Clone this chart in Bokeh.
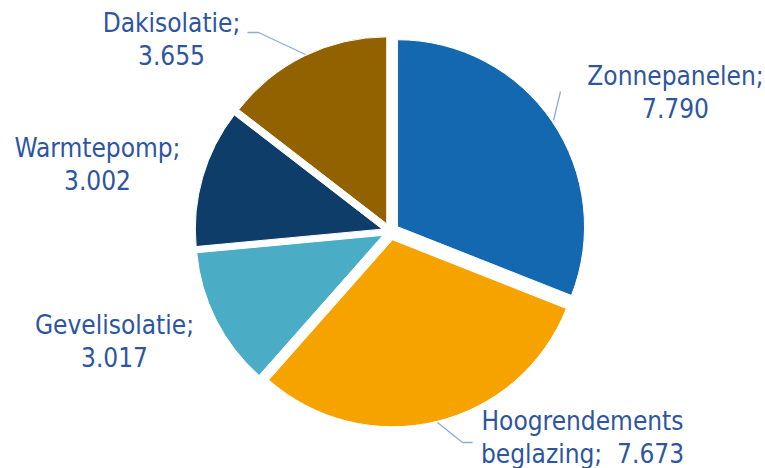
import math
from bokeh.plotting import figure
from bokeh.models import Range1d, ColumnDataSource
from bokeh.core.properties import value
from bokeh.embed import file_html
from bokeh.resources import INLINE

# data
categories = ["Zonnepanelen", "Hoogrendements beglazing", "Gevelisolatie", "Warmtepomp", "Dakisolatie"]
values = [7790, 7673, 3017, 3002, 3655]
value_labels = ["7.790", "7.673", "3.017", "3.002", "3.655"]
label_texts = ["Zonnepanelen;\n7.790", "Hoogrendements\nbeglazing;\u00a0\u00a07.673", "Gevelisolatie;\n3.017",
               "Warmtepomp;\n3.002", "Dakisolatie;\n3.655"]
colors = ["#1368B0", "#F6A300", "#4BACC6", "#0E3D69", "#936200"]

W, H = 765, 468
def sy(y):  # screen y -> data y
    return H - y

p = figure(width=W, height=H, output_backend="svg", toolbar_location=None,
           x_range=Range1d(0, W), y_range=Range1d(0, H), min_border=0)
p.axis.visible = False
p.grid.visible = False
p.outline_line_color = None
p.background_fill_color = "white"

cx, cy = 390, sy(231)
R = 187
explode = 8.5
total = sum(values)
starts, ends, xs, ys = [], [], [], []
a = math.pi / 2
for v in values:
    sweep = v / total * 2 * math.pi
    end = a
    start = a - sweep
    mid = (start + end) / 2
    starts.append(start)
    ends.append(end)
    xs.append(cx + explode * math.cos(mid))
    ys.append(cy + explode * math.sin(mid))
    a = start

src = ColumnDataSource(dict(x=xs, y=ys, start=starts, end=ends, color=colors, cat=categories))
p.wedge(x="x", y="y", radius=R, start_angle="start", end_angle="end", direction="anticlock",
        fill_color="color", line_color="white", line_width=1, source=src)

# leader lines
lc = "#8EA9DB"
p.line([247, 258, 305], [sy(32), sy(32), sy(54)], line_color=lc, line_width=1.3)
p.line([560, 553], [sy(91), sy(120)], line_color=lc, line_width=1.3)
p.line([437, 462, 472], [sy(422), sy(442), sy(442)], line_color=lc, line_width=1.3)

# labels (center x, baseline of first line)
lab_x = [675, 582, 114, 97, 171]
lab_base = [87, 432, 336, 159, 34]
corr = 5
lab_y = [sy(b + corr) for b in lab_base]
ls = ColumnDataSource(dict(x=lab_x, y=lab_y, t=label_texts))
p.text(x="x", y="y", text="t", source=ls, text_align="center", text_baseline="alphabetic",
       text_font=value("DejaVu Sans Condensed"), text_font_size="26px", text_color="#2D55A0",
       text_line_height=1.12)

open("out.html", "w").write(file_html(p, INLINE))
